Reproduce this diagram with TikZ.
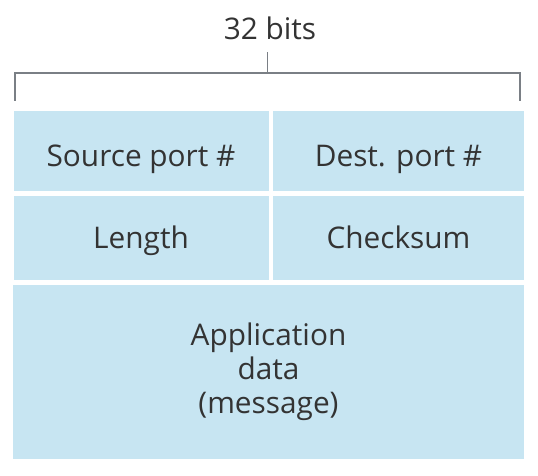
\documentclass[tikz,border=0pt]{standalone}
\usepackage{fontspec}
\usetikzlibrary{calc}
\newfontfamily\hdrfont{Open Sans}
\definecolor{fieldblue}{HTML}{C7E5F2}
\definecolor{inkgray}{HTML}{333333}
\definecolor{bracegray}{HTML}{7A7F85}
\tikzset{
  field/.style={rectangle, fill=fieldblue, inner sep=0pt},
  lbl/.style={text=inkgray, inner sep=0pt, font=\hdrfont\fontsize{29.8}{34}\selectfont}
}
\begin{document}
\begin{tikzpicture}[x=1pt, y=-1pt]
  \useasboundingbox (0,0) rectangle (538,476);
  % header fields
  \node[field, minimum width=255pt, minimum height=80pt] (src) at (141,151) {};
  \node[field, minimum width=251pt, minimum height=80pt] (dst) at (398.5,151) {};
  \node[field, minimum width=255pt, minimum height=84pt] (len) at (141,238) {};
  \node[field, minimum width=251pt, minimum height=84pt] (chk) at (398.5,238) {};
  \node[field, minimum width=511pt, minimum height=174pt] (app) at (268.5,372) {};
  \node[lbl, anchor=base] (srctxt) at ([yshift=-16pt]src.center) {Source port \#};
  \node[lbl, anchor=base] (dsttxt) at ([yshift=-16pt]dst.center) {Dest. port \#};
  \node[lbl, anchor=base] (lentxt) at ([yshift=-10pt]len.center) {Length};
  \node[lbl, anchor=base] (chktxt) at ([yshift=-10pt]chk.center) {Checksum};
  \node[lbl, align=center] (apptxt) at ([yshift=0pt]app.center) {Application\\data\\(message)};
  % width bracket
  \coordinate (bl) at (15,101);
  \coordinate (tl) at (15,73);
  \coordinate (tr) at (520,73);
  \coordinate (br) at (520,101);
  \coordinate (tick) at (267.5,52);
  \draw[bracegray, line width=1.5pt] (bl) -- (tl) -- (tr) -- (br);
  \draw[bracegray, line width=1.5pt] ($(tl)!0.5!(tr)$) -- (tick);
  \node[lbl, anchor=base] (bits) at (270,40) {32 bits};
\end{tikzpicture}
\end{document}
